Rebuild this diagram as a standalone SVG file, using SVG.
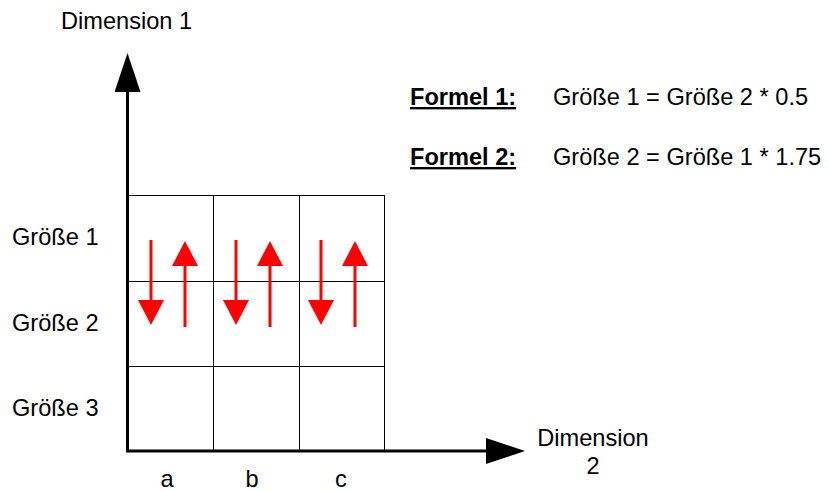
<svg xmlns="http://www.w3.org/2000/svg" width="829" height="491" viewBox="0 0 829 491">
<style>
text { font-family: "Liberation Sans", Arial, sans-serif; font-size: 23.6px; fill: #000; }
.b { font-weight: bold; }
.grid { fill: none; stroke: #000; stroke-width: 1; }
.axis { stroke: #000; stroke-width: 3; fill: none; }
.red { stroke: #ff0000; stroke-width: 3; fill: none; }
</style>
<defs>
<marker id="ah" viewBox="0 0 39 26" refX="0" refY="13" markerWidth="39" markerHeight="26" markerUnits="userSpaceOnUse" orient="auto">
<path d="M0,0 L39,13 L0,26 z" fill="#000"/>
</marker>
<marker id="rh" viewBox="0 0 25 26" refX="0" refY="13" markerWidth="25" markerHeight="26" markerUnits="userSpaceOnUse" orient="auto">
<path d="M0,0 L25,13 L0,26 z" fill="#ff0000"/>
</marker>
</defs>
<rect id="background" x="0" y="0" width="829" height="491" fill="#fff"/>
<g id="grid">
<rect class="grid" x="128.5" y="195.5" width="256" height="256"/>
<line class="grid" x1="213.5" y1="195" x2="213.5" y2="451"/>
<line class="grid" x1="299.5" y1="195" x2="299.5" y2="451"/>
<line class="grid" x1="128" y1="281.5" x2="384" y2="281.5"/>
<line class="grid" x1="128" y1="366.5" x2="384" y2="366.5"/>
</g>
<g id="connectors">
<line class="axis" x1="127.5" y1="452" x2="127.5" y2="92" marker-end="url(#ah)"/>
<line class="axis" x1="126" y1="451" x2="486" y2="451" marker-end="url(#ah)"/>
<line class="red" x1="151" y1="240" x2="151" y2="300" marker-end="url(#rh)"/>
<line class="red" x1="185" y1="327" x2="185" y2="266" marker-end="url(#rh)"/>
<line class="red" x1="236" y1="240" x2="236" y2="300" marker-end="url(#rh)"/>
<line class="red" x1="270" y1="327" x2="270" y2="266" marker-end="url(#rh)"/>
<line class="red" x1="321" y1="240" x2="321" y2="300" marker-end="url(#rh)"/>
<line class="red" x1="355" y1="327" x2="355" y2="266" marker-end="url(#rh)"/>
</g>
<g id="axis-labels">
<text x="61" y="29">Dimension 1</text>
<text x="593" y="446" text-anchor="middle">Dimension</text>
<text x="593" y="474" text-anchor="middle">2</text>
</g>
<g id="row-labels">
<text x="12" y="245">Größe 1</text>
<text x="12" y="331">Größe 2</text>
<text x="12" y="416">Größe 3</text>
</g>
<g id="col-labels">
<text x="167" y="487" text-anchor="middle">a</text>
<text x="252" y="487" text-anchor="middle">b</text>
<text x="341" y="487" text-anchor="middle">c</text>
</g>
<g id="formulas">
<text class="b" x="410" y="105" text-decoration="underline">Formel 1:</text>
<text x="553" y="105">Größe 1 = Größe 2 * 0.5</text>
<text class="b" x="410" y="165" text-decoration="underline">Formel 2:</text>
<text x="553" y="165">Größe 2 = Größe 1 * 1.75</text>
</g>
</svg>
